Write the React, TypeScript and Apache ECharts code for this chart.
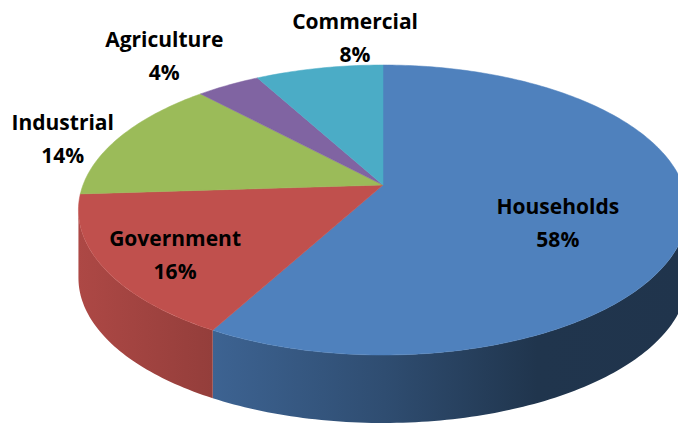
import React, { useEffect, useRef } from "react";
import * as echarts from "echarts";

// ---- data ----
const categories = ["Households", "Government", "Industrial", "Agriculture", "Commercial"];
const values = [58, 16, 14, 4, 8];
const colors = ["#4f81bd", "#c0504d", "#9bbb59", "#8064a2", "#4bacc6"];

// ---- geometry of the tilted (perspective) pie ----
const CX = 383;
const CY = 185;
const RA = 300; // horizontal radius
const RB = 140.7; // vertical radius factor
const K = 0.1724; // perspective strength
const DEPTH = 68; // thickness of the pie
const FRONT0 = Math.acos(-K); // visible side starts (clockwise from 12 o'clock)
const FRONT1 = 2 * Math.PI - Math.acos(-K);

// label layout: radial factor + pixel nudge
const labelLayout = [
  { r: 0.58, dx: 2, dy: 17 },
  { r: 0.78, dx: 5, dy: 6 },
  { r: 1, dx: -58, dy: 2 },
  { r: 1, dx: -64, dy: -30 },
  { r: 1, dx: 36, dy: -31 },
];

function project(theta: number, r: number): number[] {
  const u = r * Math.sin(theta);
  const v = -r * Math.cos(theta);
  const w = 1 - K * v;
  return [CX + (RA * u) / w, CY + (RB * v) / w];
}

function arcPoints(a0: number, a1: number): number[][] {
  const n = Math.max(2, Math.ceil(((a1 - a0) * 180) / Math.PI));
  const pts: number[][] = [];
  for (let i = 0; i <= n; i++) pts.push(project(a0 + ((a1 - a0) * i) / n, 1));
  return pts;
}

function shade(hex: string, f: number): string {
  const n = parseInt(hex.slice(1), 16);
  const r = Math.round(((n >> 16) & 255) * f);
  const g = Math.round(((n >> 8) & 255) * f);
  const b = Math.round((n & 255) * f);
  return `rgb(${r},${g},${b})`;
}

const shadeStops = [
  [0, 0.9],
  [0.22, 0.77],
  [0.5, 0.6],
  [0.75, 0.41],
  [1, 0.4],
];

export default function App() {
  const ref = useRef<HTMLDivElement>(null);
  useEffect(() => {
    if (!ref.current) return;
    const chart = echarts.init(ref.current, undefined, { renderer: "svg" });
    const total = values.reduce((s, v) => s + v, 0);
    const starts: number[] = [];
    let acc = 0;
    values.forEach((v) => {
      starts.push(acc);
      acc += (v / total) * 2 * Math.PI;
    });

    const renderItem = (params: any) => {
      const i = params.dataIndex;
      const a0 = starts[i];
      const a1 = a0 + (values[i] / total) * 2 * Math.PI;
      const children: any[] = [];

      // side wall
      const s = Math.max(a0, FRONT0);
      const e = Math.min(a1, FRONT1);
      if (s < e) {
        const top = arcPoints(s, e);
        const bottom = top.map((p) => [p[0], p[1] + DEPTH]).reverse();
        children.push({
          type: "polygon",
          shape: { points: top.concat(bottom) },
          style: {
            fill: {
              type: "linear",
              x: 78,
              y: 0,
              x2: 690,
              y2: 0,
              global: true,
              colorStops: shadeStops.map(([o, f]) => ({ offset: o, color: shade(colors[i], f) })),
            },
            stroke: null,
          },
          z2: 1,
        });
      }

      // top face
      const pts = [[CX, CY]].concat(arcPoints(a0, a1));
      children.push({
        type: "polygon",
        shape: { points: pts },
        style: { fill: colors[i], stroke: colors[i], lineWidth: 0.5 },
        z2: 2,
      });

      // label
      const lay = labelLayout[i];
      const mid = (a0 + a1) / 2;
      const p = project(mid, lay.r);
      const pct = Math.round((values[i] / total) * 100) + "%";
      children.push({
        type: "text",
        x: p[0] + lay.dx,
        y: p[1] + lay.dy,
        style: {
          text: categories[i] + "\n" + pct,
          align: "center",
          verticalAlign: "middle",
          fontFamily: "Open Sans",
          fontWeight: "bold",
          fontSize: 21,
          lineHeight: 33,
          fill: "#000",
        },
        z2: 10,
      });

      return { type: "group", children };
    };

    chart.setOption({
      animation: false,
      backgroundColor: "#ffffff",
      series: [
        {
          type: "custom",
          coordinateSystem: "none",
          silent: true,
          data: values.map((v, i) => ({ value: v, name: categories[i] })),
          renderItem,
        },
      ],
    });
    return () => chart.dispose();
  }, []);
  return (
    <div
      ref={ref}
      style={{ position: "fixed", left: 0, top: 0, width: 678, height: 424 }}
    />
  );
}
